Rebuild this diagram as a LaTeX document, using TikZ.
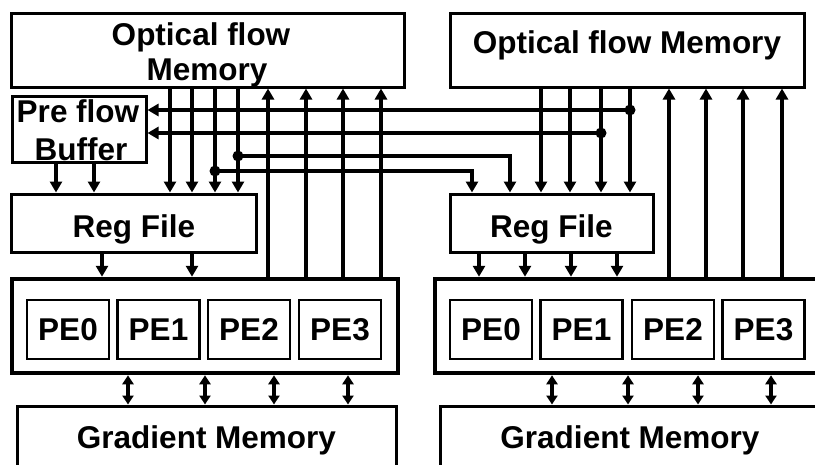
\documentclass[tikz,border=0pt]{standalone}
\usepackage{fontspec}
\setmainfont{Liberation Sans}
\usetikzlibrary{arrows.meta}
\begin{document}
\begin{tikzpicture}[x=1pt,y=-1pt,
  box/.style={draw, line width=3pt, inner sep=0pt},
  pebox/.style={draw, line width=2.2pt, inner sep=0pt, minimum width=82pt, minimum height=59pt,
    font=\fontsize{31.5}{35}\selectfont\bfseries},
  cont/.style={draw, line width=4.5pt, inner sep=0pt, minimum width=386pt, minimum height=94pt},
  lbl/.style={font=\fontsize{31.5}{35}\selectfont\bfseries, inner sep=0pt, anchor=base},
  arr/.style={line width=3.2pt, -{Triangle[width=12pt,length=11pt]}},
  dbl/.style={line width=3.2pt, {Triangle[width=11pt,length=9pt]}-{Triangle[width=11pt,length=9pt]}},
  dot/.style={circle, fill, inner sep=0pt, minimum size=11pt}]
\useasboundingbox (0,0) rectangle (815,464);
\clip (0,0) rectangle (815,464);

% ---------- boxes ----------
\node[box, minimum width=393pt, minimum height=74pt] (ofm1) at (207.5,50) {};
\node[box, minimum width=354pt, minimum height=74pt] (ofm2) at (627.5,50) {};
\node[box, minimum width=134pt, minimum height=66pt] (pfb) at (79,129) {};
\node[box, minimum width=245pt, minimum height=58pt] (rf1) at (133.5,223) {};
\node[box, minimum width=203pt, minimum height=58pt] (rf2) at (551.5,223) {};
\node[cont] (pec1) at (205,326) {};
\node[cont] (pec2) at (628,326) {};
\node[box, minimum width=379pt, minimum height=62pt] (gm1) at (206.5,437) {};
\node[box, minimum width=379pt, minimum height=62pt] (gm2) at (630,437) {};

% PE boxes
\node[pebox] (lpe0) at (68,329.5) {PE0};
\node[pebox] (lpe1) at (158.5,329.5) {PE1};
\node[pebox] (lpe2) at (249,329.5) {PE2};
\node[pebox] (lpe3) at (340,329.5) {PE3};
\node[pebox] (rpe0) at (491,329.5) {PE0};
\node[pebox] (rpe1) at (581.5,329.5) {PE1};
\node[pebox] (rpe2) at (673,329.5) {PE2};
\node[pebox] (rpe3) at (763.5,329.5) {PE3};

% ---------- labels ----------
\node[lbl] (tofm1a) at (201,45) {Optical flow};
\node[lbl] (tofm1b) at (207,80) {Memory};
\node[lbl] (tofm2) at (627,53) {Optical flow Memory};
\node[lbl] (tpfba) at (78,122) {Pre flow};
\node[lbl] (tpfbb) at (81,160) {Buffer};
\node[lbl] (trf1) at (134,237) {Reg File};
\node[lbl] (trf2) at (551.5,237) {Reg File};
\node[lbl] (tgm1) at (206.5,448) {Gradient Memory};
\node[lbl] (tgm2) at (630,448) {Gradient Memory};

% ---------- left side connectors ----------
\foreach \x in {56,94}
  \draw[arr] (\x,0 |- pfb.south) -- (\x,0 |- rf1.north);
\foreach \x in {170,192,215,238}
  \draw[arr] (\x,0 |- ofm1.south) -- (\x,0 |- rf1.north);
\foreach \x in {268,306,343,381}
  \draw[arr] (\x,0 |- pec1.north) -- (\x,0 |- ofm1.south);
\foreach \x in {102,192}
  \draw[arr] (\x,0 |- rf1.south) -- (\x,0 |- pec1.north);
\foreach \x in {128,205,274,348}
  \draw[dbl] (\x,0 |- pec1.south) -- (\x,0 |- gm1.north);

% ---------- right side connectors ----------
\foreach \x in {541,570,601,630}
  \draw[arr] (\x,0 |- ofm2.south) -- (\x,0 |- rf2.north);
\foreach \x in {669,706,743,782}
  \draw[arr] (\x,0 |- pec2.north) -- (\x,0 |- ofm2.south);
\foreach \x in {479,525,571,617}
  \draw[arr] (\x,0 |- rf2.south) -- (\x,0 |- pec2.north);
\foreach \x in {552,628,698,771}
  \draw[dbl] (\x,0 |- pec2.south) -- (\x,0 |- gm2.north);

% ---------- cross connections ----------
\coordinate (j1) at (630,110);
\coordinate (j2) at (601,133);
\coordinate (j3) at (238,156);
\coordinate (j4) at (215,171);
\coordinate (k3) at (510,156);
\coordinate (k4) at (472,171);
\draw[arr] (j1) -- (j1 -| pfb.east);
\draw[arr] (j2) -- (j2 -| pfb.east);
\draw[arr] (j3) -- (k3) -- (k3 |- rf2.north);
\draw[arr] (j4) -- (k4) -- (k4 |- rf2.north);
\foreach \j in {j1,j2,j3,j4}
  \node[dot] at (\j) {};
\end{tikzpicture}
\end{document}
